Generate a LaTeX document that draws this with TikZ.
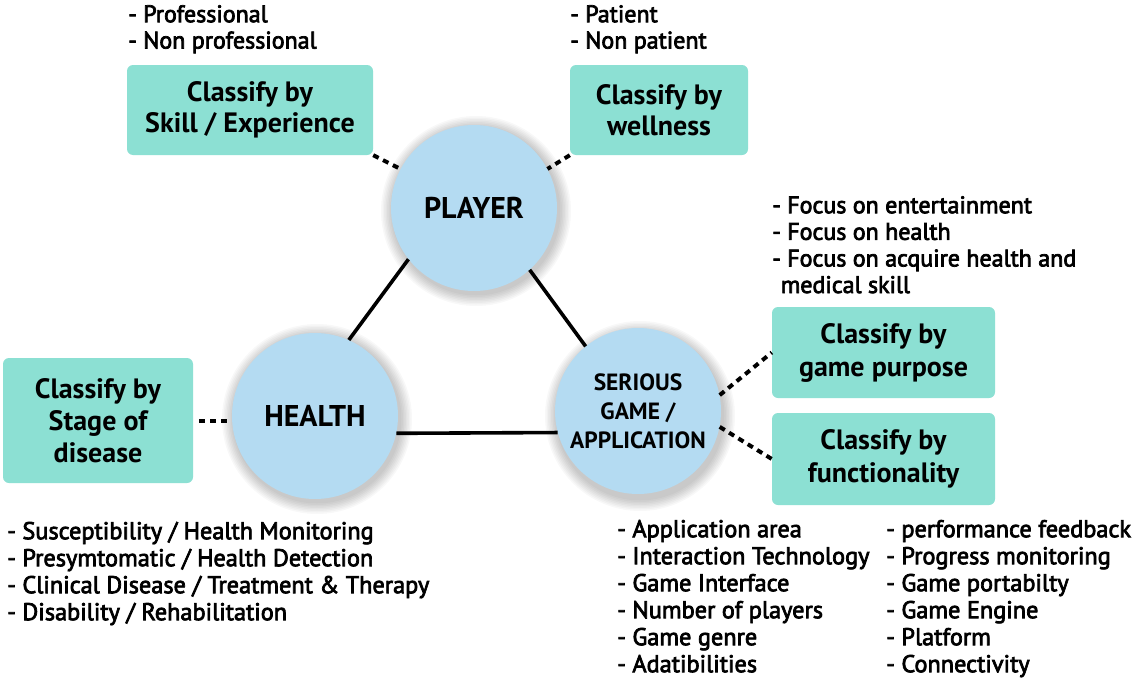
\documentclass[tikz,border=0pt]{standalone}
\usepackage{fontspec}
\setmainfont{PT Sans}
\newfontfamily\listfont[FakeBold=3]{PT Sans}
\definecolor{boxc}{RGB}{140,224,211}
\definecolor{circc}{RGB}{180,219,242}
\tikzset{
  classbox/.style={fill=boxc, rounded corners=6pt, align=center, inner sep=0pt,
    font=\fontsize{28}{31}\selectfont\bfseries},
  hub/.style={circle, fill=circc, minimum size=166pt, inner sep=0pt, align=center,
    font=\fontsize{30}{30}\selectfont\bfseries},
  listtext/.style={align=left, inner sep=0pt, anchor=north west},
  lista/.style={listtext, font=\listfont\fontsize{24.3}{27}\selectfont},
  listb/.style={listtext, font=\listfont\fontsize{24}{26.3}\selectfont},
  link/.style={line width=3.6pt, black},
  dotlink/.style={line width=4pt, black, dash pattern=on 6pt off 5pt},
}
\begin{document}
\begin{tikzpicture}[x=1pt,y=-1pt]
\useasboundingbox[fill=white] (0,0) rectangle (1146,680);
% soft shadows
\foreach \cx/\cy in {474/208, 315/416, 638/413}{
  \foreach \k in {1,...,8}{
    \fill[black, opacity=0.028] (\cx+2,\cy+3) circle ({83+\k*1.5});
  }
}
\node[hub] (player) at (474,208) {PLAYER};
\node[hub] (health) at (315,416) {HEALTH};
\node[hub, font=\fontsize{23.5}{29}\selectfont\bfseries] (serious) at (638,411) {SERIOUS\\GAME /\\APPLICATION};

\node[classbox, minimum width=246pt, minimum height=90pt] (skill) at (250,110) {Classify by\\Skill / Experience};
\node[classbox, minimum width=178pt, minimum height=90pt] (wellness) at (659,110) {Classify by\\wellness};
\node[classbox, minimum width=190pt, minimum height=125pt, font=\fontsize{28}{32}\selectfont\bfseries] (stage) at (98,420.5) {Classify by\\Stage of\\disease};
\node[classbox, minimum width=223pt, minimum height=91pt, font=\fontsize{28}{33}\selectfont\bfseries] (purpose) at (883.5,352.5) {Classify by\\game purpose};
\node[classbox, minimum width=223pt, minimum height=92pt, font=\fontsize{28}{33}\selectfont\bfseries] (func) at (883.5,459) {Classify by\\functionality};

\draw[link] (player.218) -- (health.66);
\draw[link] (player.312) -- (serious.129);
\draw[link] (health.-12) -- (serious.195.5);

\draw[dotlink] (skill.south east) -- (player.152);
\draw[dotlink] (wellness.south west) -- (player.28);
\draw[dotlink, shorten <=6pt] (stage.east) -- (stage.east -| health.west);
\draw[dotlink] (serious.11) -- (purpose.west);
\draw[dotlink] (serious.-11) -- (func.west);

% north west = first baseline - strut height (0.7 * leading)
\node[listb] (skilllist) at (128,{22-18.4}) {\strut- Professional\\- Non professional};
\node[listb] (welllist) at (570,{22-18.4}) {\strut- Patient\\- Non patient};
\node[listb, font=\listfont\fontsize{24}{26.6}\selectfont] (purplist) at (772,{213-18.6}) {\strut- Focus on entertainment\\- Focus on health\\- Focus on acquire health and\\\hphantom{-}medical skill};
\node[lista] (stagelist) at (7,{539-18.9}) {\strut- Susceptibility / Health Monitoring\\- Presymtomatic / Health Detection\\- Clinical Disease / Treatment \& Therapy\\- Disability / Rehabilitation};
\node[lista] (funclistA) at (617,{537-18.9}) {\strut- Application area\\- Interaction Technology\\- Game Interface\\- Number of players\\- Game genre\\- Adatibilities};
\node[lista] (funclistB) at (886,{537-18.9}) {\strut- performance feedback\\- Progress monitoring\\- Game portabilty\\- Game Engine\\- Platform\\- Connectivity};
\end{tikzpicture}
\end{document}
